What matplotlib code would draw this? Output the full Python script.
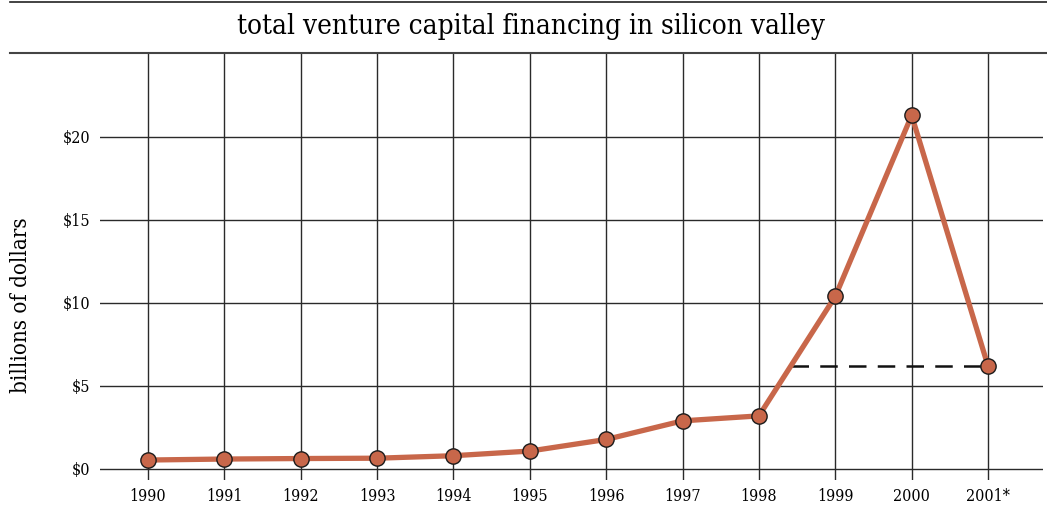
import matplotlib
matplotlib.use("Agg")
import matplotlib.pyplot as plt
from matplotlib.lines import Line2D

years = [1990, 1991, 1992, 1993, 1994, 1995, 1996, 1997, 1998, 1999, 2000, 2001]
year_labels = ["1990", "1991", "1992", "1993", "1994", "1995", "1996", "1997",
               "1998", "1999", "2000", "2001*"]
financing = [0.54, 0.6, 0.63, 0.65, 0.8, 1.08, 1.78, 2.9, 3.2, 10.4, 21.3, 6.2]
y_ticks = [0, 5, 10, 15, 20]
y_tick_labels = ["$0", "$5", "$10", "$15", "$20"]
title = "total venture capital financing in silicon valley"
ylabel = "billions of dollars"

W, H = 1047, 505
plt.rcParams['font.family'] = ['DejaVu Serif', 'Liberation Serif']
plt.rcParams['font.stretch'] = 'condensed'
fig = plt.figure(figsize=(W / 100, H / 100), dpi=100)

ax = fig.add_axes([100 / W, (H - 480) / H, 943 / W, 427 / H])
ax.set_xlim(1989.371, 2001.72)
ax.set_ylim(-0.663, 25.06)
for s in ax.spines.values():
    s.set_visible(False)

line_col = "#2a2a2a"
for yv in y_ticks:
    ax.axhline(yv, color=line_col, lw=1.0, zorder=1)
for xv in years:
    ax.axvline(xv, color=line_col, lw=1.0, zorder=1)

ax.set_xticks(years)
ax.set_xticklabels(year_labels, fontsize=11.5, fontstretch='condensed')
ax.set_yticks(y_ticks)
ax.set_yticklabels(y_tick_labels, fontsize=11.5, fontstretch='condensed')
ax.tick_params(length=0, pad=7)
ax.tick_params(axis='x', pad=6)

# dashed projection line from the crossing between 1998 and 1999 to 2001
last = financing[-1]
y0, y1 = financing[8], financing[9]
x_start = years[8] + (last - y0) / (y1 - y0)
ax.plot([x_start, years[-1]], [last, last], color="#111111", lw=1.8,
        dashes=(7, 4.5), zorder=2)

ax.plot(years, financing, color="#C8674A", lw=3.8, zorder=3,
        marker="o", markersize=11, markerfacecolor="#C8674A",
        markeredgecolor="#1a1a1a", markeredgewidth=1.0)

ax.set_ylabel(ylabel, fontsize=16, fontstretch='condensed')
ax.yaxis.set_label_coords(-68 / 943, (480 - 305) / 427)

# title with rules
fig.add_artist(Line2D([10 / W, 1], [1 - 2 / H, 1 - 2 / H], color="#222222", lw=1.2))
fig.add_artist(Line2D([10 / W, 1], [1 - 53 / H, 1 - 53 / H], color="#444444", lw=1.5))
fig.text(531 / W, 1 - 26 / H, title, ha="center", va="center", fontsize=20,
         fontstretch='condensed')

fig.savefig("out.png", dpi=100)
